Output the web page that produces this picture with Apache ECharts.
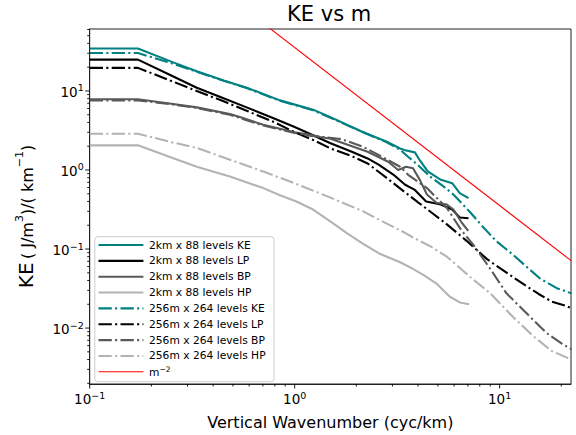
<!DOCTYPE html>
<html><head><meta charset="utf-8">
<script src="https://cdn.jsdelivr.net/npm/echarts@6/dist/echarts.min.js"></script>
<style>html,body{margin:0;padding:0;background:#fff}#c{width:576px;height:435px}</style>
</head><body><div id="c"></div>
<script>
// ---------------- data ----------------
const seriesNames = ['2km x 88 levels KE','2km x 88 levels LP','2km x 88 levels BP','2km x 88 levels HP',
                     '256m x 264 levels KE','256m x 264 levels LP','256m x 264 levels BP','256m x 264 levels HP'];
const refName = 'm\u22122';

const ke2kmX = [0.1,0.172,0.25,0.333,0.45,0.583,0.848,1.23,1.486,2.16,2.8,3.27,3.46,3.86,4.1,4.46,5.17,5.87,6.39,7.05];
const ke2kmY = [34.5,34.5,23.5,17.8,13.6,11.0,7.6,5.8,4.7,3.0,2.3,1.87,1.78,1.67,1.3,0.96,0.75,0.68,0.51,0.44];

const lp2kmX = [0.1,0.172,0.25,0.333,0.45,0.583,0.8,1.0,1.23,1.486,1.9,2.27,2.58,3.04,3.46,3.86,4.38,5.17,5.87,6.39,7.05];
const lp2kmY = [24.9,24.9,15.7,11.0,8.1,6.2,4.45,3.5,2.75,2.2,1.7,1.40,1.16,0.87,0.65,0.56,0.40,0.366,0.316,0.25,0.245];

const bp2kmX = [0.1,0.172,0.25,0.333,0.483,0.55,0.703,1.0,1.23,1.33,1.5,1.8,2.27,2.86,3.2,3.5,3.78,4.08,4.42,4.92,5.53,5.95,6.54,7.03];
const bp2kmY = [7.87,7.87,6.9,6.2,5.1,4.6,3.73,3.0,2.74,2.62,2.49,2.1,1.70,1.27,1.0,1.10,1.05,0.75,0.49,0.385,0.366,0.316,0.215,0.17];

const hp2kmX = [0.1,0.172,0.25,0.333,0.483,0.703,0.848,1.02,1.23,1.486,1.79,2.16,2.58,3.27,3.78,4.3,4.92,5.72,6.4,7.1];
const hp2kmY = [2.05,2.05,1.44,1.10,0.83,0.59,0.48,0.40,0.316,0.226,0.16,0.116,0.088,0.068,0.056,0.046,0.0366,0.0249,0.0211,0.0200];

const ke256X = [0.1,0.172,0.25,0.333,0.45,0.583,0.848,1.23,1.486,2.16,2.8,3.27,3.6,4.0,4.57,5.2,5.95,7.2,8.3,9.6,11.6,13.5,15.8,19.0,22.4];
const ke256Y = [30.2,30.2,22.5,17.5,13.5,10.9,7.5,5.7,4.6,3.0,2.25,1.8,1.45,1.15,0.83,0.65,0.49,0.29,0.19,0.127,0.085,0.06,0.042,0.032,0.0275];

const lp256X = [0.1,0.172,0.25,0.333,0.45,0.583,0.8,1.0,1.23,1.5,1.9,2.27,2.8,3.46,4.0,4.65,5.53,6.9,8.65,9.6,11.6,13.5,15.5,18.0,21.0,22.4];
const lp256Y = [19.6,19.6,13.4,10.0,7.4,5.62,4.0,3.0,2.4,1.87,1.5,1.21,0.8,0.52,0.39,0.29,0.205,0.127,0.075,0.062,0.0443,0.034,0.027,0.0216,0.0192,0.0178];

const bp256X = [0.1,0.172,0.25,0.333,0.483,0.703,1.0,1.2,1.38,1.7,2.16,2.58,3.27,3.58,4.42,5.53,6.54,7.5,9.0,10.8,13.5,16.9,20.2,22.4];
const bp256Y = [7.6,7.6,6.8,6.1,5.0,3.65,2.95,2.7,2.62,2.45,1.96,1.54,1.10,0.87,0.59,0.33,0.17,0.11,0.0562,0.0275,0.0155,0.0087,0.0063,0.0054];

const hp256X = [0.1,0.172,0.25,0.333,0.483,0.703,1.0,1.486,2.16,2.58,3.46,3.78,4.6,5.53,7.18,9.0,11.6,14.6,18.0,22.4];
const hp256Y = [2.88,2.88,2.25,1.9,1.35,0.955,0.68,0.45,0.30,0.235,0.16,0.14,0.108,0.08,0.0443,0.0275,0.0139,0.0079,0.0051,0.0040];

const refX = [0.7, 22.4];
const refY = [72.4, 0.0708];

const xMin = 0.1, xMax = 22.3;
const yMin = 0.00196, yMax = 60.8;

// ---------------- styles ----------------
const FONT = '"DejaVu Sans", "Liberation Sans", sans-serif';
const TEAL = '#008080', BLACK = '#000000', DGRAY = '#595959', LGRAY = '#b3b3b3';
const DASHDOT = [13.3, 3.3, 2.1, 3.3];
const LW = 2.1;
const styles = [
  {color: TEAL, dash: 'solid'}, {color: BLACK, dash: 'solid'}, {color: DGRAY, dash: 'solid'}, {color: LGRAY, dash: 'solid'},
  {color: TEAL, dash: DASHDOT}, {color: BLACK, dash: DASHDOT}, {color: DGRAY, dash: DASHDOT}, {color: LGRAY, dash: DASHDOT}
];
const dataX = [ke2kmX, lp2kmX, bp2kmX, hp2kmX, ke256X, lp256X, bp256X, hp256X];
const dataY = [ke2kmY, lp2kmY, bp2kmY, hp2kmY, ke256Y, lp256Y, bp256Y, hp256Y];

function pairs(xs, ys) { return xs.map((x, i) => [x, ys[i]]); }

const series = seriesNames.map((n, i) => ({
  type: 'line', name: n, data: pairs(dataX[i], dataY[i]),
  symbol: 'none', showSymbol: false, silent: true, clip: true,
  lineStyle: {color: styles[i].color, width: LW, type: styles[i].dash, cap: 'butt'},
  itemStyle: {color: styles[i].color}
}));
series.push({
  type: 'line', name: refName, data: pairs(refX, refY),
  symbol: 'none', showSymbol: false, silent: true, clip: true,
  lineStyle: {color: '#ff0000', width: 1.1, type: 'solid'}, itemStyle: {color: '#ff0000'}
});

function powLabel(v) {
  const e = Math.log10(v); const r = Math.round(e);
  if (Math.abs(e - r) > 1e-6) return '';
  const s = r < 0 ? '\u2212' + (-r) : String(r);
  return '{b|10}{s|' + s + '}';
}
const tickRich = {
  b: {fontSize: 13.5, fontFamily: FONT, color: '#000', lineHeight: 16, verticalAlign: 'bottom'},
  s: {fontSize: 9.5, fontFamily: FONT, color: '#000', lineHeight: 8, verticalAlign: 'top'}
};

// ---------------- legend (drawn as graphic) ----------------
const LEG = {x: 94.8, y: 236.7, w: 179.2, h: 145, row0: 245, step: 15.85, lx1: 98.5, lx2: 143.4, tx: 149};
const legendEls = [{
  type: 'rect', id: 'legbox', z: 100,
  shape: {x: LEG.x, y: LEG.y, width: LEG.w, height: LEG.h, r: 3},
  style: {fill: 'rgba(255,255,255,0.85)', stroke: '#cccccc', lineWidth: 1}
}];
seriesNames.concat([refName]).forEach((n, i) => {
  const y = LEG.row0 + i * LEG.step;
  const isRef = i === seriesNames.length;
  const st = isRef ? {color: '#ff0000', dash: 'solid'} : styles[i];
  legendEls.push({
    type: 'line', id: 'legl' + i, z: 101,
    shape: {x1: LEG.lx1, y1: y, x2: LEG.lx2, y2: y},
    style: {stroke: st.color, lineWidth: isRef ? 1.1 : LW, lineDash: st.dash === 'solid' ? null : st.dash}
  });
  legendEls.push({
    type: 'text', id: 'legt' + i, z: 101, x: LEG.tx, y: y,
    style: isRef ? {
      text: '{a|m}{s|\u22122}', verticalAlign: 'middle',
      rich: {a: {fontSize: 10.7, fontFamily: FONT, fill: '#000', lineHeight: 13, verticalAlign: 'bottom'},
             s: {fontSize: 7.5, fontFamily: FONT, fill: '#000', lineHeight: 7, verticalAlign: 'top'}}
    } : {text: n, fontSize: 10.7, fontFamily: FONT, fill: '#000', verticalAlign: 'middle'}
  });
});

const option = {
  animation: false,
  backgroundColor: '#ffffff',
  title: {
    text: 'KE vs m', left: 287, top: 3, padding: 0,
    textStyle: {fontSize: 21, fontWeight: 'normal', color: '#000', fontFamily: FONT}
  },
  grid: {left: 89.7, top: 29, right: 5, bottom: 46.7, show: true, borderColor: '#222', borderWidth: 1, backgroundColor: 'transparent'},
  xAxis: {
    type: 'log', logBase: 10, min: xMin, max: xMax,
    name: 'Vertical Wavenumber (cyc/km)', nameLocation: 'middle', nameGap: 30,
    nameTextStyle: {fontSize: 16, fontFamily: FONT, color: '#000'},
    axisLine: {show: true, onZero: false, lineStyle: {color: '#222', width: 1}},
    axisTick: {show: false}, minorTick: {show: false}, splitLine: {show: false},
    axisLabel: {formatter: powLabel, rich: tickRich, margin: 6, showMaxLabel: false}
  },
  yAxis: {
    type: 'log', logBase: 10, min: yMin, max: yMax,
    name: '{k|KE} {m|( J/m}{s|3}{m|)/( km}{s|\u22121}{m|)}', nameLocation: 'middle', nameGap: 54, nameRotate: 90,
    nameTextStyle: {
      padding: [0, 20, 0, 0], color: '#000',
      rich: {
        k: {fontSize: 20, fontFamily: FONT, color: '#000', lineHeight: 22, verticalAlign: 'bottom'},
        m: {fontSize: 16, fontFamily: FONT, color: '#000', lineHeight: 18, verticalAlign: 'bottom'},
        s: {fontSize: 11, fontFamily: FONT, color: '#000', lineHeight: 10, verticalAlign: 'top'}
      }
    },
    axisLine: {show: true, onZero: false, lineStyle: {color: '#222', width: 1}},
    axisTick: {show: false}, minorTick: {show: false}, splitLine: {show: false},
    axisLabel: {formatter: powLabel, rich: tickRich, margin: 6, showMaxLabel: false, showMinLabel: false}
  },
  series: series,
  graphic: {elements: legendEls}
};

const chart = echarts.init(document.getElementById('c'), null, {renderer: 'svg'});
chart.setOption(option);

// ---------------- log ticks (major + minor), placed through the axes ----------------
const tickEls = [];
function addTick(id, p, dx, dy) {
  tickEls.push({type: 'line', id: id, z: 50, silent: true,
    shape: {x1: p[0], y1: p[1], x2: p[0] + dx, y2: p[1] + dy},
    style: {stroke: '#000', lineWidth: 0.9}});
}
const decades = [0.001, 0.01, 0.1, 1, 10];
let n = 0;
decades.forEach(d => {
  for (let k = 1; k <= 9; k++) {
    const v = k * d;
    const major = k === 1;
    if (v >= xMin - 1e-12 && v <= xMax) {
      const p = chart.convertToPixel({gridIndex: 0}, [v, yMin]);
      addTick('xt' + (n++), p, 0, major ? 4.5 : 2.5);
    }
    if (v >= yMin && v <= yMax) {
      const p = chart.convertToPixel({gridIndex: 0}, [xMin, v]);
      addTick('yt' + (n++), p, major ? -4.5 : -2.5, 0);
    }
  }
});
chart.setOption({graphic: {elements: legendEls.concat(tickEls)}});
</script>
</body></html>
